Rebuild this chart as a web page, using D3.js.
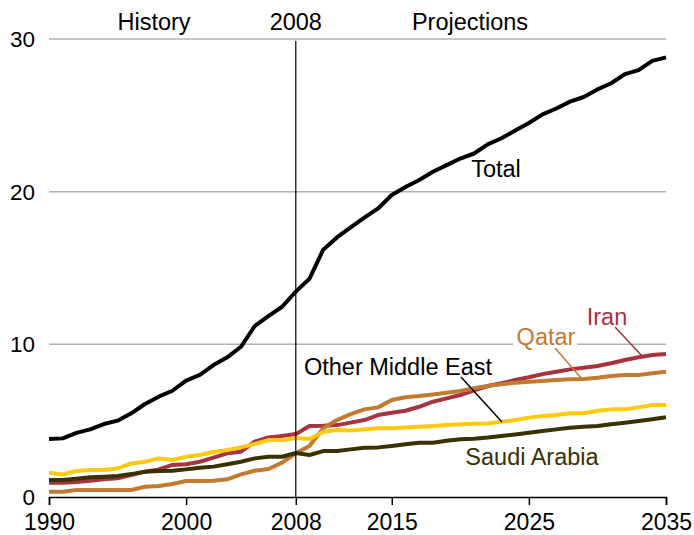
<!DOCTYPE html>
<html><head><meta charset="utf-8">
<script src="https://cdn.jsdelivr.net/npm/d3@7"></script>
<style>body{margin:0;background:#fff}svg{display:block}text{font-family:"Liberation Sans",Arial,sans-serif}</style>
</head><body><svg id="c" width="694" height="535"></svg>
<script>
const years = d3.range(1990, 2036);
const total = [3.8,3.84,4.2,4.43,4.78,5.0,5.48,6.09,6.57,6.96,7.62,8.0,8.64,9.15,9.84,11.2,11.85,12.46,13.45,14.3,16.2,17.0,17.66,18.3,18.9,19.78,20.3,20.76,21.3,21.74,22.17,22.5,23.1,23.5,24.0,24.5,25.06,25.45,25.9,26.2,26.7,27.1,27.7,27.96,28.57,28.8];
const otherME = [1.59,1.48,1.7,1.77,1.77,1.88,2.2,2.31,2.53,2.42,2.64,2.75,2.95,3.08,3.25,3.47,3.73,3.73,3.86,3.8,4.28,4.39,4.35,4.43,4.5,4.5,4.56,4.6,4.65,4.71,4.76,4.8,4.82,4.93,5.04,5.2,5.3,5.37,5.48,5.48,5.65,5.74,5.74,5.87,6.02,6.02];
const saudi = [1.11,1.11,1.2,1.29,1.33,1.38,1.5,1.66,1.7,1.72,1.81,1.92,1.99,2.14,2.31,2.53,2.64,2.64,2.88,2.75,3.01,3.01,3.12,3.23,3.25,3.34,3.45,3.56,3.56,3.69,3.78,3.82,3.9,4.0,4.1,4.21,4.32,4.43,4.54,4.6,4.65,4.76,4.87,4.98,5.09,5.22];
const iran = [0.94,0.94,0.98,1.07,1.16,1.22,1.44,1.66,1.81,2.1,2.14,2.31,2.58,2.86,2.97,3.62,3.9,4.0,4.12,4.65,4.67,4.71,4.87,5.04,5.37,5.52,5.65,5.91,6.24,6.46,6.68,6.98,7.27,7.45,7.66,7.84,8.05,8.2,8.36,8.47,8.58,8.76,8.97,9.15,9.3,9.36];
const qatar = [0.35,0.35,0.46,0.46,0.46,0.46,0.46,0.67,0.72,0.85,1.05,1.05,1.07,1.16,1.48,1.72,1.83,2.25,2.86,3.34,4.5,5.04,5.43,5.74,5.87,6.35,6.53,6.61,6.72,6.83,6.94,7.12,7.27,7.38,7.49,7.55,7.6,7.66,7.71,7.73,7.81,7.92,7.99,7.99,8.1,8.2];
const xTicks = [1990, 2000, 2008, 2015, 2025, 2035];
const yTicks = [0, 10, 20, 30];

const svg = d3.select("#c");
const x = d3.scaleLinear().domain([1990, 2035]).range([49, 666]);
const y = d3.scaleLinear().domain([0, 30]).range([497, 39]);
const FS = 23.5;

// gridlines
svg.append("g").selectAll("line").data(yTicks.filter(d => d > 0)).join("line")
  .attr("x1", 49).attr("x2", 666).attr("y1", d => y(d)).attr("y2", d => y(d))
  .attr("stroke", "#b3b3b3").attr("stroke-width", 1.5);

// y labels
svg.append("g").selectAll("text").data(yTicks).join("text")
  .attr("x", 35).attr("y", d => y(d) + 8).attr("text-anchor", "end")
  .attr("font-size", 22.5).attr("fill", "#000").text(d => d);

const series = [
  {name: "Iran", v: iran, color: "#a6333f"},
  {name: "Qatar", v: qatar, color: "#c17a30"},
  {name: "Other Middle East", v: otherME, color: "#ffc90e"},
  {name: "Saudi Arabia", v: saudi, color: "#3a3100"},
  {name: "Total", v: total, color: "#000"}
];
const line = d3.line().x((d, i) => x(years[i])).y(d => y(d));
svg.append("g").selectAll("path").data(series).join("path")
  .attr("d", s => line(s.v)).attr("fill", "none")
  .attr("stroke", s => s.color).attr("stroke-width", 4)
  .attr("stroke-linejoin", "round");

// x axis
const xa = svg.append("g").attr("transform", "translate(0,497)")
  .call(d3.axisBottom(x).tickValues(xTicks).tickFormat(d3.format("d")).tickSizeOuter(0).tickSize(8).tickPadding(9));
xa.select(".domain").attr("stroke", "#000").attr("stroke-width", 1.5);
xa.selectAll(".tick line").attr("stroke", "#000").attr("stroke-width", 1.5);
xa.selectAll(".tick text").attr("font-size", 23).attr("font-family", "Liberation Sans, Arial, sans-serif").attr("fill", "#000");

// 2008 divider
svg.append("line").attr("x1", x(2008)).attr("x2", x(2008)).attr("y1", 41).attr("y2", 497)
  .attr("stroke", "#000").attr("stroke-width", 1.2);

// header
svg.append("text").attr("x", 154).attr("y", 30).attr("text-anchor", "middle").attr("font-size", FS).text("History");
svg.append("text").attr("x", x(2008)).attr("y", 30).attr("text-anchor", "middle").attr("font-size", FS).text("2008");
svg.append("text").attr("x", 470).attr("y", 30).attr("text-anchor", "middle").attr("font-size", FS).text("Projections");

// labels
svg.append("rect").attr("x", 513).attr("y", 327).attr("width", 64).attr("height", 24).attr("fill", "#fff");
svg.append("text").attr("x", 496).attr("y", 177).attr("text-anchor", "middle").attr("font-size", FS).text("Total");
svg.append("text").attr("x", 607).attr("y", 325).attr("text-anchor", "middle").attr("font-size", FS).attr("fill", "#a6333f").text("Iran");
svg.append("text").attr("x", 546).attr("y", 345).attr("text-anchor", "middle").attr("font-size", FS).attr("fill", "#c17a30").text("Qatar");
svg.append("text").attr("x", 398).attr("y", 375).attr("text-anchor", "middle").attr("font-size", FS).text("Other Middle East");
svg.append("text").attr("x", 532).attr("y", 465).attr("text-anchor", "middle").attr("font-size", FS).attr("fill", "#3a3100").text("Saudi Arabia");
// leaders
svg.append("line").attr("x1", 615).attr("y1", 327).attr("x2", 642).attr("y2", 356).attr("stroke", "#a6333f").attr("stroke-width", 1.5);
svg.append("line").attr("x1", 555).attr("y1", 348).attr("x2", 582).attr("y2", 379).attr("stroke", "#c17a30").attr("stroke-width", 1.5);
svg.append("line").attr("x1", 461).attr("y1", 377).attr("x2", 502).attr("y2", 422).attr("stroke", "#000").attr("stroke-width", 1.5);
</script></body></html>
